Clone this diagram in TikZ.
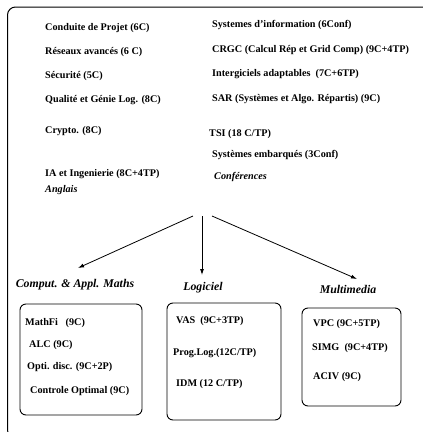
\documentclass[tikz,border=0pt]{standalone}
\usepackage{fontspec}
\setmainfont{Liberation Serif}[BoldFont={Liberation Serif Bold},ItalicFont={Liberation Serif Italic},BoldItalicFont={Liberation Serif Bold Italic}]
\usetikzlibrary{arrows.meta}
\begin{document}
\begin{tikzpicture}[x=1pt,y=-1pt,
  item/.style={anchor=west,inner sep=0pt,font=\fontsize{10.2}{12}\selectfont\rmfamily\bfseries},
  itemit/.style={anchor=west,inner sep=0pt,font=\fontsize{10.2}{12}\selectfont\rmfamily\bfseries\itshape},
  cat/.style={anchor=center,inner sep=0pt,font=\fontsize{11.8}{14}\selectfont\rmfamily\bfseries\itshape},
  optbox/.style={draw,line width=0.9pt,rounded corners=6pt},
  arr/.style={line width=0.8pt,-{Latex[length=6pt,width=4pt]}}]
\useasboundingbox (0,0) rectangle (423,432);
\clip (0,0) rectangle (423,432);
% outer frame
\draw[line width=1pt,rounded corners=8pt] (7.5,7) rectangle (460,438);
% left column
\node[item] (cp) at (45,28) {Conduite de Projet (6C)};
\node[item] (ra) at (45,52) {Réseaux avancés (6 C)};
\node[item] (se) at (45,76) {Sécurité (5C)};
\node[item] (qg) at (45,100) {Qualité et Génie Log. (8C)};
\node[item] (cr) at (45,131) {Crypto. (8C)};
\node[item] (ia) at (45,174) {IA et Ingenierie (8C+4TP)};
\node[itemit] (an) at (45,190) {Anglais};
% right column
\node[item] (si) at (212,25) {Systemes d’information (6Conf)};
\node[item] (cg) at (212,50) {CRGC (Calcul Rép et Grid Comp) (9C+4TP)};
\node[item] (in) at (212,74) {Intergiciels adaptables\ \ (7C+6TP)};
\node[item] (sa) at (212,99) {SAR (Systèmes et Algo. Répartis) (9C)};
\node[item] (ts) at (209,134) {TSI (18 C/TP)};
\node[item] (sy) at (212,155) {Systèmes embarqués (3Conf)};
\node[itemit] (co) at (214,177) {Conférences};
% arrows
\coordinate (sl) at (193,216);
\coordinate (sm) at (202,216);
\coordinate (sr) at (212,216);
\coordinate (el) at (78,268);
\coordinate (em) at (202,275);
\coordinate (er) at (357,279);
\draw[arr] (sl) -- (el);
\draw[arr] (sm) -- (em);
\draw[arr] (sr) -- (er);
% categories
\node[cat] (c1) at (75,285) {Comput. \& Appl. Maths};
\node[cat] (c2) at (203,288) {Logiciel};
\node[cat] (c3) at (348,289) {Multimedia};
% boxes
\draw[optbox] (20,304) rectangle (142,415);
\draw[optbox] (167,303) rectangle (281,420);
\draw[optbox] (302,308) rectangle (401,406);
\node[item] (b11) at (25,323) {MathFi\ \ \ (9C)};
\node[item] (b12) at (29,345) {ALC (9C)};
\node[item] (b13) at (27,367) {Opti. disc. (9C+2P)};
\node[item] (b14) at (30,391) {Controle Optimal (9C)};
\node[item] (b21) at (176,321) {VAS\ \ (9C+3TP)};
\node[item] (b22) at (173,353) {Prog.Log.(12C/TP)};
\node[item] (b23) at (176,384) {IDM (12 C/TP)};
\node[item] (b31) at (313,324) {VPC (9C+5TP)};
\node[item] (b32) at (312,348) {SIMG\ \ (9C+4TP)};
\node[item] (b33) at (313,377) {ACIV (9C)};
\end{tikzpicture}
\end{document}
